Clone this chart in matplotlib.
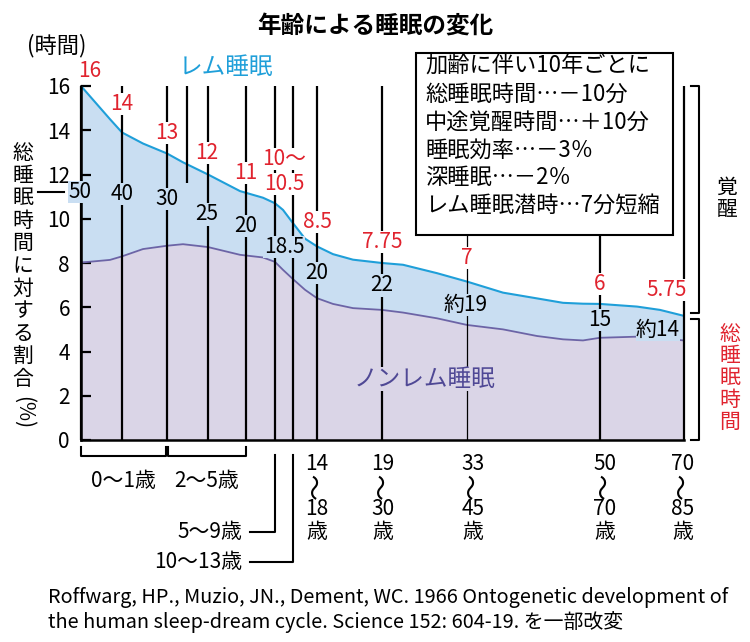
import matplotlib.pyplot as plt
from matplotlib.patches import Rectangle

plt.rcParams['font.family'] = ['Noto Sans CJK JP', 'DejaVu Sans']

# Colours
BLUE_LINE = '#1f9fd9'
BLUE_FILL = '#c9def2'
PURPLE_LINE = '#6c64a6'
PURPLE_FILL = '#dad5e7'
RED = '#e0232e'

# Position of each age group on the (non linear) age axis
age_pos = [0, 41, 86, 127, 165, 194, 212, 236, 301, 386, 519, 603]

# Curves: total sleep and non-REM sleep (hours)
curve_x = [0, 29, 41, 62, 86, 102, 127, 159, 182, 194, 202, 212, 224, 236,
           252, 272, 301, 322, 356, 386, 422, 456, 482, 502, 519, 556, 579, 603]
total_sleep = [16.0, 14.5, 13.9, 13.4, 12.95, 12.55, 12.0, 11.25, 10.95, 10.7,
               10.4, 9.8, 9.1, 8.75, 8.4, 8.15, 8.0, 7.92, 7.54, 7.16, 6.66,
               6.4, 6.2, 6.16, 6.15, 6.03, 5.88, 5.61]
nonrem_sleep = [8.02, 8.14, 8.3, 8.63, 8.78, 8.85, 8.72, 8.37, 8.25, 8.05,
                7.69, 7.27, 6.79, 6.41, 6.15, 5.96, 5.88, 5.76, 5.5, 5.2, 5.0,
                4.7, 4.55, 4.5, 4.62, 4.67, 4.6, 4.5]

# Total sleep hours (red) and REM share in % (black)
hours_text = ['16', '14', '13', '12', '11', '10〜', '10.5', '8.5', '7.75', '7', '6', '5.75']
hours_x = [9, 41, 86, 126, 165, 203, 203, 236, 301, 386, 519, 586]
hours_y = [16.68, 15.19, 13.88, 12.97, 12.07, 12.7, 11.56, 9.85, 8.95, 8.23, 7.05, 6.78]

rem_text = ['50', '40', '30', '25', '20', '18.5', '20', '22', '約19', '15', '約14']
rem_x = [-1, 41, 86, 126, 165, 203, 236, 301, 385, 519, 577]
rem_y = [11.21, 11.12, 10.89, 10.21, 9.67, 8.72, 7.55, 7.0, 6.1, 5.42, 4.97]

# Age group labels along the bottom
upper_ages = [('14', '18'), ('19', '30'), ('33', '45'), ('50', '70'), ('70', '85')]
upper_age_x = [236, 302, 392, 524, 602]

y_ticks = [0, 2, 4, 6, 8, 10, 12, 14, 16]

note_lines = ['加齢に伴い10年ごとに',
              '総睡眠時間…－10分',
              '中途覚醒時間…＋10分',
              '睡眠効率…－3％',
              '深睡眠…－2％',
              'レム睡眠潜時…7分短縮']

fig = plt.figure(figsize=(7.5, 6.42), dpi=100)
ax = fig.add_axes([81 / 750, 1 - 440 / 642, 603 / 750, 354 / 642])
ax.set_xlim(0, 603)
ax.set_ylim(0, 16)

# Stacked areas
ax.fill_between(curve_x, 0, nonrem_sleep, color=PURPLE_FILL, lw=0, zorder=1)
ax.fill_between(curve_x, nonrem_sleep, total_sleep, color=BLUE_FILL, lw=0, zorder=1)
ax.plot(curve_x, total_sleep, color=BLUE_LINE, lw=1.5, zorder=2)
ax.plot(curve_x, nonrem_sleep, color=PURPLE_LINE, lw=1.3, zorder=2)

# Note box
box_bottom = 9.27
ax.add_patch(Rectangle((335, box_bottom), 257, 8.22, fill=False, ec='black',
                       lw=1.5, clip_on=False, zorder=4))
for i, line in enumerate(note_lines):
    ax.text(344, 16.91 - i * 1.265, line, fontsize=16, va='center', ha='left',
            zorder=5)

# Vertical lines for each age group
for i, x in enumerate(age_pos):
    top = box_bottom if x in (386, 519) else 16
    width = 0.9 if x == 386 else 1.6
    ax.plot([x, x], [0, top], color='black', lw=width, zorder=3,
            clip_on=False, solid_capstyle='butt')
# short divider between the infant groups
ax.plot([106, 106], [11.63, 16], color='black', lw=1.6, zorder=3,
        solid_capstyle='butt')

# Labels, with a background of the region they sit on
for t, x, y in zip(hours_text, hours_x, hours_y):
    ax.text(x, y, t, color=RED, fontsize=15, ha='center', va='center', zorder=6,
            clip_on=False,
            bbox=dict(fc='white', ec='none', pad=0))
for t, x, y in zip(rem_text, rem_x, rem_y):
    ax.text(x, y, t, color='black', fontsize=15, ha='center', va='center',
            zorder=6, bbox=dict(fc=BLUE_FILL, ec='none', pad=0.3))
ax.plot([-43, -17], [11.21, 11.21], color='black', lw=1.5, clip_on=False)

ax.text(145, 16.85, 'レム睡眠', color=BLUE_LINE, fontsize=17, ha='center',
        va='center', clip_on=False)
ax.text(344, 2.75, 'ノンレム睡眠', color='#4f4895', fontsize=17, ha='center',
        va='center', zorder=6, bbox=dict(fc=PURPLE_FILL, ec='none', pad=0.5))

# Axes styling
ax.spines['top'].set_visible(False)
ax.spines['right'].set_visible(False)
ax.spines['left'].set_linewidth(1.8)
ax.spines['bottom'].set_linewidth(1.8)
ax.spines['left'].set_zorder(4)
ax.spines['bottom'].set_zorder(4)
ax.set_xticks([])
ax.set_yticks(y_ticks)
ax.tick_params(axis='y', direction='in', length=7, width=1.6, labelsize=15, pad=8)

# Brackets under the infant groups
for x0, x1, label in [(age_pos[0], age_pos[2] - 1, '0〜1歳'),
                      (age_pos[2] + 1, age_pos[4], '2〜5歳')]:
    ax.plot([x0, x0, x1, x1], [-0.32, -0.72, -0.72, -0.32], color='black',
            lw=1.5, clip_on=False)
    ax.text((x0 + x1) / 2, -1.85, label, fontsize=15, ha='center', va='center')

# Leaders for 5-9 and 10-13
for x, y, label in [(age_pos[5], -4.16, '5〜9歳'), (age_pos[6], -5.51, '10〜13歳')]:
    ax.plot([x, x, 169], [-0.68, y, y], color='black', lw=1.5, clip_on=False)
    ax.text(161, y, label, fontsize=15, ha='right', va='center')

# Stacked age labels
for (a, b), x in zip(upper_ages, upper_age_x):
    ax.text(x, -1.08, a, fontsize=15, ha='center', va='center')
    ax.text(x, -2.08, '〜', fontsize=19, ha='center', va='center', rotation=90)
    ax.text(x, -3.12, b, fontsize=15, ha='center', va='center')
    ax.text(x, -4.16, '歳', fontsize=15, ha='center', va='center')

# Right-hand brackets
split = total_sleep[-1]
ax.plot([610, 618, 618, 610], [16, 16, split + 0.13, split + 0.13],
        color='black', lw=1.5, clip_on=False)
ax.plot([610, 618, 618, 610], [split - 0.13, split - 0.13, 0, 0],
        color='black', lw=1.5, clip_on=False)
for i, ch in enumerate('覚醒'):
    fig.text(727 / 750, 1 - (188 + i * 22) / 642, ch, fontsize=15,
             ha='center', va='center')
for i, ch in enumerate('総睡眠時間'):
    fig.text(730 / 750, 1 - (334 + i * 22) / 642, ch, fontsize=15, color=RED,
             ha='center', va='center')

# Y axis title, written vertically
for i, ch in enumerate('総睡眠時間に対する割合'):
    fig.text(23 / 750, 1 - (153 + i * 22.6) / 642, ch, fontsize=15,
             ha='center', va='center')
fig.text(23 / 750, 1 - 413 / 642, '(%)', fontsize=15, ha='center', va='center',
         rotation=-90)
fig.text(57 / 750, 1 - 46 / 642, '(時間)', fontsize=16, ha='center', va='center')

fig.text(375 / 750, 1 - 27 / 642, '年齢による睡眠の変化', fontsize=17,
         fontweight='bold', ha='center', va='center')

fig.text(48 / 750, 1 - 597 / 642,
         'Roffwarg, HP., Muzio, JN., Dement, WC. 1966 Ontogenetic development of',
         fontsize=14.3, ha='left', va='center')
fig.text(48 / 750, 1 - 622 / 642,
         'the human sleep-dream cycle. Science 152: 604-19. を一部改変',
         fontsize=14.3, ha='left', va='center')

fig.savefig('out.png', dpi=100)
